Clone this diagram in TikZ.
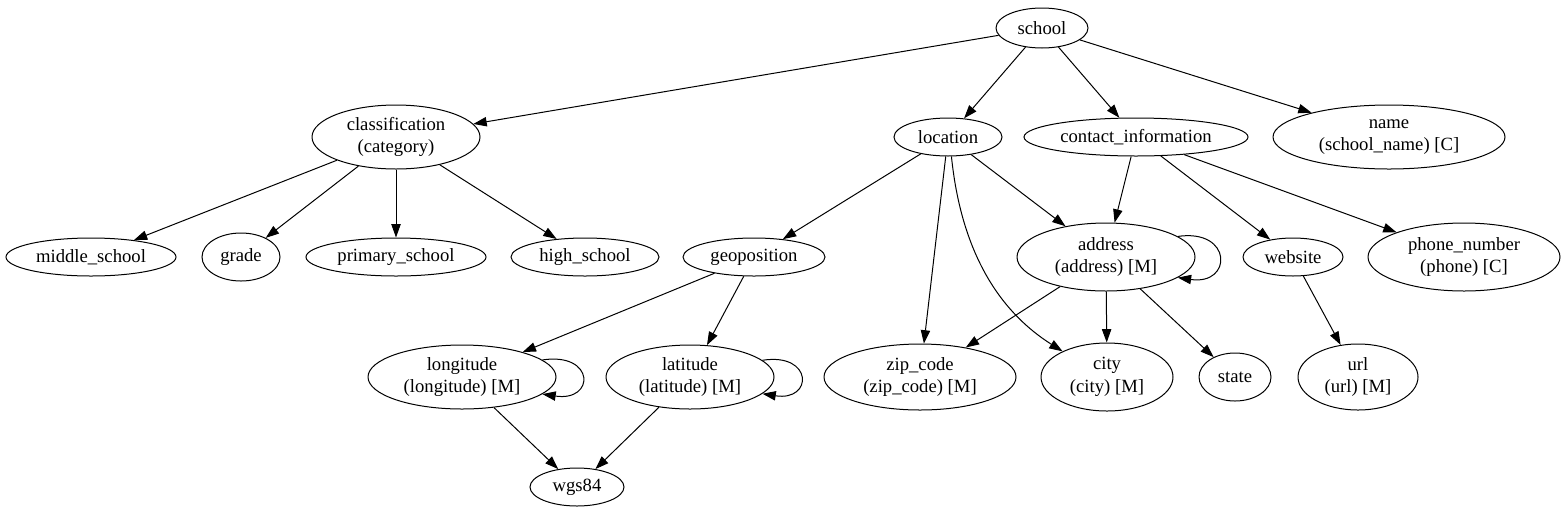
\documentclass[tikz,border=0pt]{standalone}
\usepackage{fontspec}
\setmainfont{Liberation Serif}
\usetikzlibrary{shapes.geometric,arrows.meta}
\tikzset{
  nd/.style={draw, ellipse, line width=0.75pt, inner sep=0pt, align=center,
    font=\fontsize{14}{17}\selectfont},
  edge/.style={draw, line width=0.75pt, -{Triangle[length=10pt,width=7pt]}}
}
\begin{document}
\begin{tikzpicture}[x=0.75pt,y=-0.75pt]
\useasboundingbox (0,0) rectangle (1565,515);
% row 0
\node[nd, minimum width=69pt, minimum height=30pt] (school) at (1042,28) {school};
% row 1
\node[nd, minimum width=126pt, minimum height=48pt] (class) at (396,137) {classification\\(category)};
\node[nd, minimum width=81pt, minimum height=28.5pt] (loc) at (948,137) {location};
\node[nd, minimum width=168pt, minimum height=28.5pt] (contact) at (1136,137) {contact\_information};
\node[nd, minimum width=174pt, minimum height=48pt] (name) at (1389,137) {name\\(school\_name) [C]};
% row 2
\node[nd, minimum width=127.5pt, minimum height=28.5pt] (middle) at (91,257) {middle\_school};
\node[nd, minimum width=58.5pt, minimum height=36pt] (grade) at (241,257) {grade};
\node[nd, minimum width=135pt, minimum height=28.5pt] (primary) at (396,257) {primary\_school};
\node[nd, minimum width=111pt, minimum height=28.5pt] (high) at (585,257) {high\_school};
\node[nd, minimum width=106.5pt, minimum height=28.5pt] (geo) at (754,257) {geoposition};
\node[nd, minimum width=133.5pt, minimum height=51pt] (addr) at (1106,257) {address\\(address) [M]};
\node[nd, minimum width=75pt, minimum height=28.5pt] (web) at (1293,257) {website};
\node[nd, minimum width=144pt, minimum height=51pt] (phone) at (1464,257) {phone\_number\\(phone) [C]};
% row 3
\node[nd, minimum width=141pt, minimum height=48pt] (lon) at (462,377) {longitude\\(longitude) [M]};
\node[nd, minimum width=126pt, minimum height=48pt] (lat) at (690,377) {latitude\\(latitude) [M]};
\node[nd, minimum width=144pt, minimum height=49.5pt] (zip) at (920,377) {zip\_code\\(zip\_code) [M]};
\node[nd, minimum width=99pt, minimum height=51pt] (city) at (1107,377) {city\\(city) [M]};
\node[nd, minimum width=54pt, minimum height=36pt] (state) at (1235,377) {state};
\node[nd, minimum width=90pt, minimum height=49.5pt] (url) at (1358,377) {url\\(url) [M]};
% row 4
\node[nd, minimum width=70.5pt, minimum height=28.5pt] (wgs) at (577,487) {wgs84};

% edges
\draw[edge] (school) -- (class);
\draw[edge] (school) -- (loc);
\draw[edge] (school) -- (contact);
\draw[edge] (school) -- (name);
\draw[edge] (class) -- (middle);
\draw[edge] (class) -- (grade);
\draw[edge] (class) -- (primary);
\draw[edge] (class) -- (high);
\draw[edge] (loc) -- (geo);
\draw[edge] (loc) -- (zip);
\draw[edge] (loc.-80) .. controls (962,260) and (1005,315) .. (city.150);
\draw[edge] (loc) -- (addr);
\draw[edge] (contact) -- (addr);
\draw[edge] (contact) -- (web);
\draw[edge] (contact) -- (phone);
\draw[edge] (addr.16) .. controls +(55,-8) and +(55,8) .. (addr.-16);
\draw[edge] (addr) -- (zip);
\draw[edge] (addr) -- (city);
\draw[edge] (addr) -- (state);
\draw[edge] (web) -- (url);
\draw[edge] (geo) -- (lon);
\draw[edge] (geo) -- (lat);
\draw[edge] (lon.12) .. controls +(53,-8) and +(53,8) .. (lon.-12);
\draw[edge] (lat.13) .. controls +(51,-8) and +(51,8) .. (lat.-13);
\draw[edge] (lon) -- (wgs);
\draw[edge] (lat) -- (wgs);
\end{tikzpicture}
\end{document}
